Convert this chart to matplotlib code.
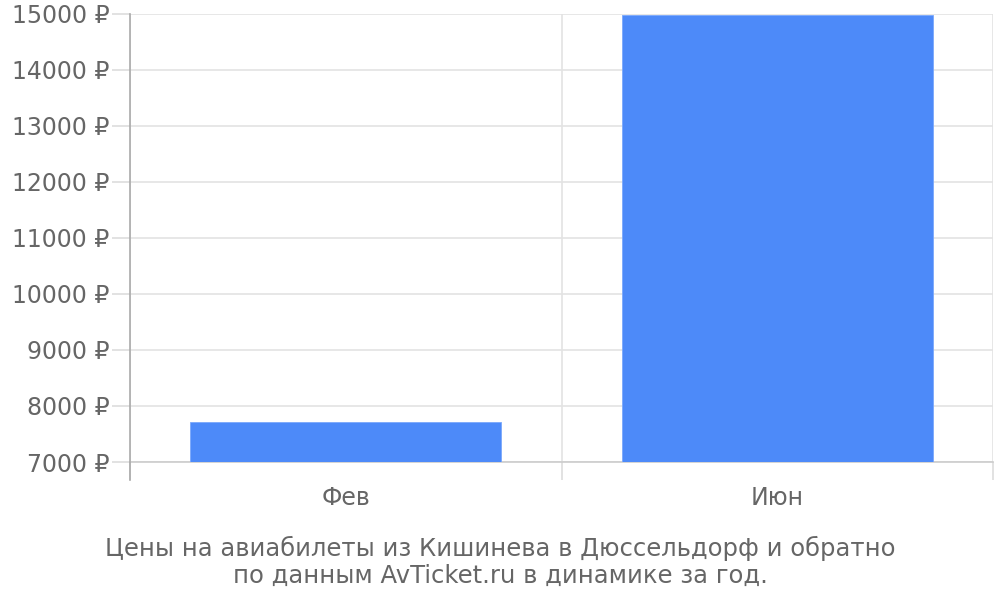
import matplotlib
matplotlib.use("Agg")
import matplotlib.pyplot as plt
from matplotlib.ticker import FixedLocator

categories = ["Фев", "Июн"]
prices = [7710, 14980]
yticks = [7000, 8000, 9000, 10000, 11000, 12000, 13000, 14000, 15000]
title = "Цены на авиабилеты из Кишинева в Дюссельдорф и обратно\nпо данным AvTicket.ru в динамике за год."

plt.rcParams['font.family'] = ['DejaVu Sans']
fig = plt.figure(figsize=(10, 6), dpi=100)
ax = fig.add_axes([0.13, 0.23, 0.863, 0.7467])

x = list(range(len(categories)))
ax.bar(x, prices, width=0.72, color="#4d8af9", edgecolor="#7aa8fb", linewidth=0.6, zorder=3)

ax.set_xlim(-0.5, len(categories) - 0.5)
ax.set_ylim(7000, 15000)
ax.set_yticks(yticks)
ax.set_yticklabels([f"{v} ₽" for v in yticks])
ax.yaxis.grid(True, color="#e3e3e3", linewidth=1.2, zorder=0)

ax.set_xticks(x)
ax.set_xticklabels(categories)
ax.xaxis.set_minor_locator(FixedLocator([i - 0.5 for i in range(len(categories) + 1)]))
ax.xaxis.grid(True, which="minor", color="#e3e3e3", linewidth=1.2, zorder=0)
ax.tick_params(axis="x", which="major", length=0, pad=17.5, labelsize=17, labelcolor="#666666")
ax.tick_params(axis="x", which="minor", length=13, color="#dddddd", width=1.2)
ax.tick_params(axis="y", length=13, color="#dddddd", width=1.2, pad=2, labelsize=17, labelcolor="#666666")

for s in ["top", "right"]:
    ax.spines[s].set_visible(False)
ax.spines["left"].set_color("#aaaaaa")
ax.spines["left"].set_linewidth(1.2)
ax.spines["left"].set_bounds(7000, 15000)
ax.spines["bottom"].set_color("#cccccc")
ax.spines["bottom"].set_linewidth(1.2)

# left axis extension below
ax.plot([-0.5, -0.5], [7000, 7000 - 18 / 56 * 1000], color="#aaaaaa", lw=1.2, clip_on=False, zorder=4)

fig.text(0.5, 0.0633, title, ha="center", va="center", fontsize=17.5, color="#666666", linespacing=1.17)

fig.savefig("out.png", dpi=100)
